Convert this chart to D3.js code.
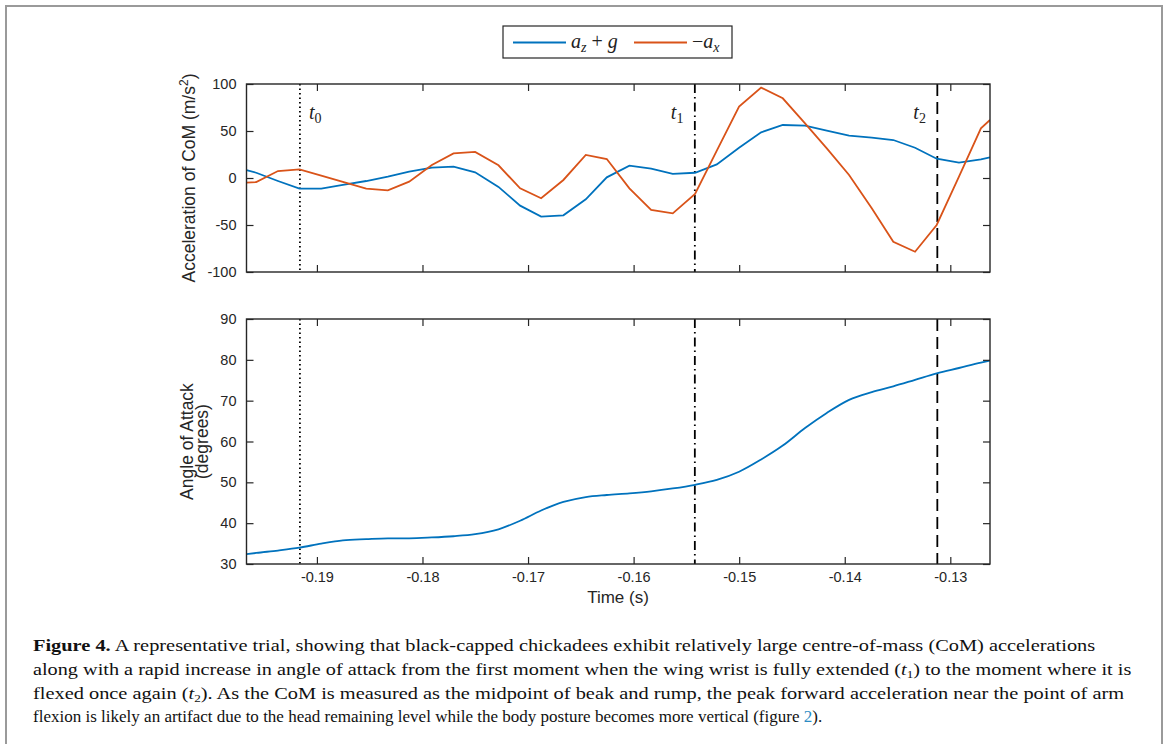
<!DOCTYPE html>
<html>
<head>
<meta charset="utf-8">
<script src="https://cdn.jsdelivr.net/npm/d3@7"></script>
<style>
  body { margin: 0; background: #fff; }
  svg text { font-family: "Liberation Sans", Arial, sans-serif; }
  .math { font-family: "Liberation Serif", "DejaVu Serif", serif; font-style: italic; }
  .cap { font-family: "Liberation Serif", "DejaVu Serif", serif; font-size: 17px; fill: #111; }
</style>
</head>
<body>
<div id="chart"></div>
<script>
// sample times (s)
var time = [-0.19667, -0.19575, -0.19369, -0.19165, -0.18959, -0.18754, -0.18533, -0.18328, -0.18126,
  -0.17911, -0.17706, -0.17501, -0.17280, -0.17075, -0.16876, -0.16665, -0.16453, -0.16254, -0.16040,
  -0.15834, -0.15629, -0.15418, -0.15212, -0.15001, -0.14792, -0.14587, -0.14376, -0.14170, -0.13959,
  -0.13744, -0.13540, -0.13334, -0.13129, -0.12918, -0.12710, -0.12624];

// a_z + g (m/s^2)
var azg = [8.5, 5.6, -3.2, -11.4, -11.4, -7.4, -3.2, 1.4, 6.7, 11.0, 12.1, 6.0, -9.5, -29.4, -41.1, -39.7,
  -22.7, 0.7, 13.1, 9.9, 4.3, 5.6, 14.5, 32.2, 48.6, 56.4, 55.7, 50.4, 45.0, 42.9, 40.4, 32.2, 20.5, 16.3,
  19.8, 22.0];

// -a_x (m/s^2)
var negAx = [-5.0, -4.3, 7.4, 9.2, 2.5, -4.2, -11.4, -13.1, -3.9, 13.8, 26.2, 27.7, 13.5, -11.0, -21.6,
  -2.1, 24.5, 20.2, -11.0, -34.0, -37.6, -17.0, 29.1, 75.9, 96.1, 84.8, 58.2, 31.6, 3.2, -32.3, -67.8,
  -78.4, -50.0, 1.4, 52.9, 61.7];

// angle of attack (degrees)
var aoa = [32.4, 32.7, 33.3, 34.0, 35.0, 35.8, 36.1, 36.3, 36.3, 36.5, 36.8, 37.3, 38.5, 40.6, 43.1, 45.2,
  46.4, 46.9, 47.3, 47.8, 48.5, 49.4, 50.6, 52.6, 55.6, 59.0, 63.3, 67.0, 70.2, 72.1, 73.5, 75.1, 76.7,
  78.0, 79.3, 79.8];

// event times t0, t1, t2
var eventNames = ["0", "1", "2"];
var eventTimes = [-0.19161, -0.15420, -0.13123];
var eventDash = ["1.5,3", "9,4,1.5,4", "12,6"];

var xTicks = [-0.19, -0.18, -0.17, -0.16, -0.15, -0.14, -0.13];
var accTicks = [-100, -50, 0, 50, 100];
var aoaTicks = [30, 40, 50, 60, 70, 80, 90];

var blue = "#0072BD", orange = "#D95319", axisCol = "#262626";

var svg = d3.select("#chart").append("svg").attr("width", 1168).attr("height", 744);

// figure frame
svg.append("rect").attr("x", 6).attr("y", 6).attr("width", 1156).attr("height", 760)
  .attr("fill", "none").attr("stroke", "#9a9a9a").attr("stroke-width", 2);

var x = d3.scaleLinear().domain([-0.19667, -0.12624]).range([246.5, 990]);
var yAcc = d3.scaleLinear().domain([-100, 100]).range([272, 84]);
var yAoa = d3.scaleLinear().domain([30, 90]).range([564, 319]);

svg.append("clipPath").attr("id", "clipTop").append("rect")
  .attr("x", 246.5).attr("y", 84).attr("width", 990 - 246.5).attr("height", 272 - 84);
svg.append("clipPath").attr("id", "clipBot").append("rect")
  .attr("x", 246.5).attr("y", 319).attr("width", 990 - 246.5).attr("height", 564 - 319);

function drawAxes(y, yTicks, showX) {
  var top = y.range()[1], bottom = y.range()[0];
  var g = svg.append("g").attr("color", axisCol);
  g.append("g").attr("transform", "translate(0," + bottom + ")")
    .call(d3.axisBottom(x).tickValues(xTicks).tickSizeInner(-7).tickSizeOuter(0).tickPadding(8)
      .tickFormat(showX ? function (d) { return d.toFixed(2); } : ""));
  g.append("g").attr("transform", "translate(0," + top + ")")
    .call(d3.axisTop(x).tickValues(xTicks).tickSizeInner(-7).tickSizeOuter(0).tickFormat(""));
  g.append("g").attr("transform", "translate(" + x.range()[0] + ",0)")
    .call(d3.axisLeft(y).tickValues(yTicks).tickSizeInner(-7).tickSizeOuter(0).tickPadding(10)
      .tickFormat(function (d) { return String(d); }));
  g.append("g").attr("transform", "translate(" + x.range()[1] + ",0)")
    .call(d3.axisRight(y).tickValues(yTicks).tickSizeInner(-7).tickSizeOuter(0).tickFormat(""));
  g.selectAll(".domain").remove();
  g.selectAll("g").attr("font-family", null).attr("font-size", null);
  g.selectAll(".tick line").attr("stroke-width", 1.2);
  g.selectAll("text").attr("fill", axisCol).style("font-size", "14.5px");
  g.append("rect").attr("x", x.range()[0]).attr("y", top)
    .attr("width", x.range()[1] - x.range()[0]).attr("height", bottom - top)
    .attr("fill", "none").attr("stroke", axisCol).attr("stroke-width", 1.4);
}

function drawEvents(y) {
  var top = y.range()[1], bottom = y.range()[0];
  svg.append("g").selectAll("line").data(eventTimes).enter().append("line")
    .attr("x1", function (d) { return x(d); }).attr("x2", function (d) { return x(d); })
    .attr("y1", top).attr("y2", bottom)
    .attr("stroke", "#000").attr("stroke-width", 1.8)
    .attr("stroke-dasharray", function (d, i) { return eventDash[i]; });
}

// ---- top panel: accelerations
drawEvents(yAcc);
var lineAcc = function (vals) {
  return d3.line().x(function (d, i) { return x(time[i]); }).y(function (d) { return yAcc(d); })(vals);
};
var topLines = svg.append("g").attr("clip-path", "url(#clipTop)");
topLines.append("path").attr("d", lineAcc(azg)).attr("fill", "none").attr("stroke", blue).attr("stroke-width", 1.8);
topLines.append("path").attr("d", lineAcc(negAx)).attr("fill", "none").attr("stroke", orange).attr("stroke-width", 1.8);
drawAxes(yAcc, accTicks, false);

// event labels t0, t1, t2
var lblOffset = [9, -24, -24];
eventTimes.forEach(function (t, i) {
  var txt = svg.append("text").attr("class", "math").attr("font-size", 20).attr("fill", "#222")
    .attr("x", x(t) + lblOffset[i]).attr("y", 119);
  txt.append("tspan").text("t");
  txt.append("tspan").attr("font-style", "normal").attr("font-size", 14).attr("dy", 4).text(eventNames[i]);
});

// y label top
var yl1 = svg.append("text").attr("font-size", 17.5).attr("fill", axisCol).attr("text-anchor", "middle")
  .attr("transform", "translate(195," + yAcc(0) + ") rotate(-90)");
yl1.append("tspan").text("Acceleration of CoM (m/s");
yl1.append("tspan").attr("font-size", 12).attr("dy", -7).text("2");
yl1.append("tspan").attr("dy", 7).text(")");

// legend
var leg = svg.append("g");
leg.append("rect").attr("x", 503).attr("y", 26).attr("width", 229).attr("height", 32)
  .attr("fill", "#fff").attr("stroke", axisCol).attr("stroke-width", 1.2);
leg.append("line").attr("x1", 513).attr("x2", 566).attr("y1", 42.5).attr("y2", 42.5).attr("stroke", blue).attr("stroke-width", 1.8);
leg.append("line").attr("x1", 634).attr("x2", 687).attr("y1", 42.5).attr("y2", 42.5).attr("stroke", orange).attr("stroke-width", 1.8);
var l1 = leg.append("text").attr("class", "math").attr("font-size", 20).attr("fill", "#222").attr("x", 571).attr("y", 48);
l1.append("tspan").text("a");
l1.append("tspan").attr("font-size", 14).attr("dy", 4).text("z");
l1.append("tspan").attr("font-style", "normal").attr("dy", -4).text(" + ");
l1.append("tspan").text("g");
var l2 = leg.append("text").attr("class", "math").attr("font-size", 20).attr("fill", "#222").attr("x", 692).attr("y", 48);
l2.append("tspan").attr("font-style", "normal").text("\u2212");
l2.append("tspan").text("a");
l2.append("tspan").attr("font-size", 14).attr("dy", 4).text("x");

// ---- bottom panel: angle of attack
drawEvents(yAoa);
svg.append("g").attr("clip-path", "url(#clipBot)").append("path")
  .attr("d", d3.line().curve(d3.curveMonotoneX)
    .x(function (d, i) { return x(time[i]); }).y(function (d) { return yAoa(d); })(aoa))
  .attr("fill", "none").attr("stroke", blue).attr("stroke-width", 1.8);
drawAxes(yAoa, aoaTicks, true);

var yl2 = svg.append("text").attr("font-size", 17.5).attr("fill", axisCol).attr("text-anchor", "middle")
  .attr("transform", "translate(" + 193 + "," + (yAoa(60)) + ") rotate(-90)");
yl2.append("tspan").attr("x", 0).attr("dy", 0).text("Angle of Attack");
yl2.append("tspan").attr("x", 0).attr("dy", 15).text("(degrees)");

svg.append("text").attr("font-size", 17).attr("fill", axisCol).attr("text-anchor", "middle")
  .attr("x", 618).attr("y", 603).text("Time (s)");

// ---- caption (each line squeezed horizontally to the measured width)
var capLines = [
  { y: 651, w: 1063 },
  { y: 675, w: 1099 },
  { y: 699, w: 1092 },
  { y: 722, w: 790 }
];
var c = capLines.map(function (d) {
  return svg.append("text").attr("class", "cap").attr("x", 0).attr("y", 0);
});
c[0].append("tspan").attr("font-weight", "bold").text("Figure 4.");
c[0].append("tspan").text(" A representative trial, showing that black-capped chickadees exhibit relatively large centre-of-mass (CoM) accelerations");
c[1].append("tspan").text("along with a rapid increase in angle of attack from the first moment when the wing wrist is fully extended (");
c[1].append("tspan").attr("font-style", "italic").text("t");
c[1].append("tspan").attr("font-size", 11).attr("dy", 3).text("1");
c[1].append("tspan").attr("dy", -3).text(") to the moment where it is");
c[2].append("tspan").text("flexed once again (");
c[2].append("tspan").attr("font-style", "italic").text("t");
c[2].append("tspan").attr("font-size", 11).attr("dy", 3).text("2");
c[2].append("tspan").attr("dy", -3).text("). As the CoM is measured as the midpoint of beak and rump, the peak forward acceleration near the point of arm");
c[3].append("tspan").text("flexion is likely an artifact due to the head remaining level while the body posture becomes more vertical (figure ");
c[3].append("tspan").attr("fill", "#2b8cc4").text("2");
c[3].append("tspan").text(").");
c.forEach(function (t, i) {
  var natural = t.node().getComputedTextLength();
  t.attr("transform", "translate(33," + capLines[i].y + ") scale(" + (capLines[i].w / natural) + ",1)");
});
</script>
</body>
</html>
